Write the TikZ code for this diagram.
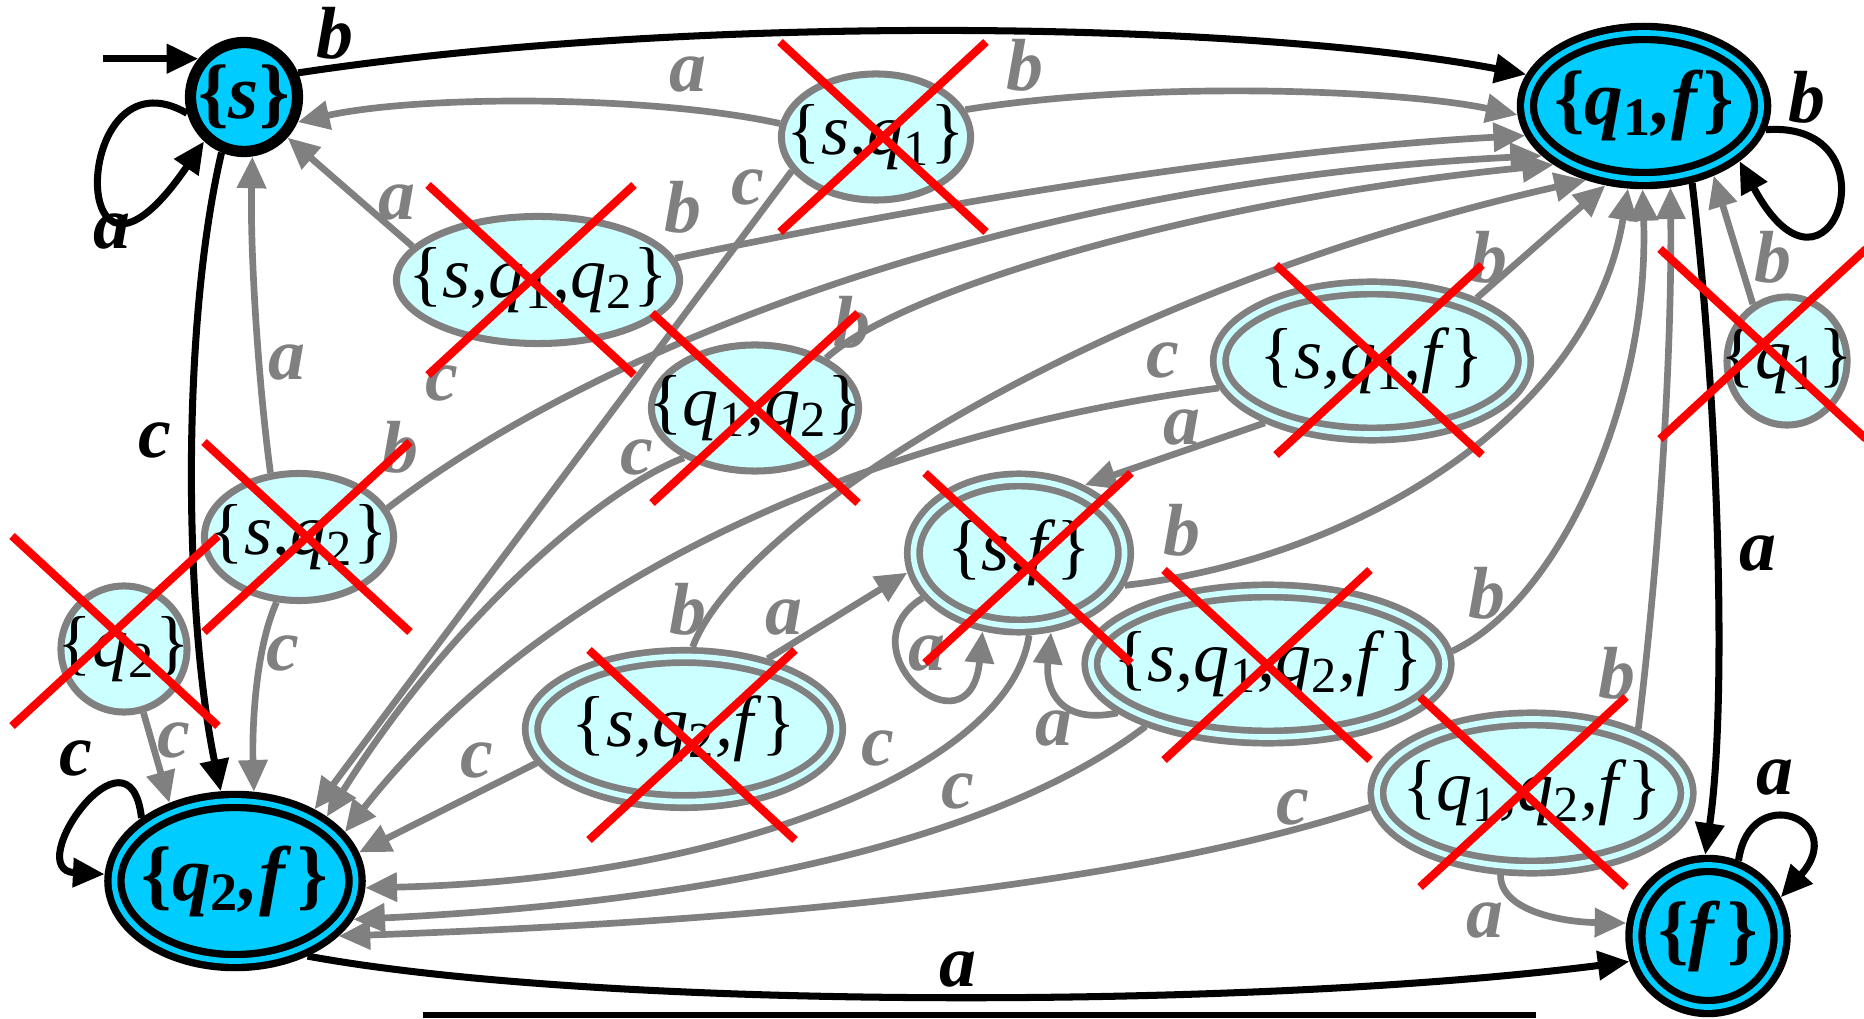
\documentclass[tikz,border=0pt]{standalone}
\usepackage{fontspec}
\setmainfont{Liberation Serif}
\usetikzlibrary{arrows.meta,positioning,shapes.geometric,calc}
\definecolor{livecyan}{RGB}{0,204,255}
\definecolor{deadcyan}{RGB}{204,255,255}
\definecolor{edgegray}{RGB}{128,128,128}
\newcommand{\dset}[1]{\makebox[0pt]{\textup{\{}#1\textup{\}}}}
\newcommand{\qs}[1]{q\textsubscript{\textup{#1}}}
\newcommand{\livefont}{\fontsize{22}{26}\selectfont\itshape\bfseries}
\newcommand{\deadfont}{\fontsize{20.5}{24}\selectfont\itshape}
\newcommand{\labelfont}{\fontsize{21}{25}\selectfont\bfseries\itshape}
\tikzset{
    livestate/.style={ellipse,draw=black,fill=livecyan,line width=3.2pt,inner sep=0pt,outer sep=1.6pt,font=\livefont},
    livefinal/.style={ellipse,draw=black,double=livecyan,double distance=1.6pt,fill=livecyan,line width=2.1pt,inner sep=0pt,outer sep=2.9pt,font=\livefont},
    deadstate/.style={ellipse,draw=edgegray,fill=deadcyan,line width=2pt,inner sep=0pt,outer sep=1pt,font=\deadfont},
    deadfinal/.style={ellipse,draw=edgegray,double=deadcyan,double distance=1.6pt,fill=deadcyan,line width=1.9pt,inner sep=0pt,outer sep=2.7pt,font=\deadfont},
    liveline/.style={-{Triangle[length=9pt,width=8pt]},line width=2pt,black},
    deadline/.style={-{Triangle[length=9pt,width=8pt]},line width=1.9pt,edgegray},
    livelabel/.style={font=\labelfont,text=black,inner sep=0pt},
    deadlabel/.style={font=\labelfont,text=edgegray,inner sep=0pt},
    crossmark/.style={draw=red,line width=2.3pt}
}
\begin{document}
\begin{tikzpicture}[x=0.01cm,y=-0.01cm]
    \useasboundingbox (0,0) rectangle (1864,1019);
    % reachable states
    \node[livestate,minimum width=1.07cm,minimum height=1.09cm] (s) at (244,97) {\dset{s}};
    \node[livefinal,minimum width=2.34cm,minimum height=1.46cm] (q1f) at (1644,106) {\dset{\qs{1},f}};
    \node[livefinal,minimum width=2.41cm,minimum height=1.60cm] (q2f) at (235,881) {\dset{\qs{2},f\,}};
    \node[livefinal,minimum width=1.45cm,minimum height=1.42cm] (f) at (1708,936) {\dset{f\,}};
    % unreachable states
    \node[deadstate,minimum width=1.89cm,minimum height=1.26cm] (sq1) at (876,137) {\dset{s,\qs{1}}};
    \node[deadstate,minimum width=2.83cm,minimum height=1.27cm] (sq1q2) at (538,280) {\dset{s,\qs{1},\qs{2}}};
    \node[deadstate,minimum width=2.07cm,minimum height=1.26cm] (q1q2) at (755,408) {\dset{\qs{1},\qs{2}}};
    \node[deadstate,minimum width=1.89cm,minimum height=1.27cm] (sq2) at (299,537) {\dset{s,\qs{2}}};
    \node[deadstate,minimum width=1.26cm,minimum height=1.26cm] (q2) at (124,649) {\dset{\qs{2}}};
    \node[deadstate,minimum width=1.20cm,minimum height=1.28cm] (q1) at (1787,361) {\dset{\qs{1}}};
    \node[deadfinal,minimum width=3.05cm,minimum height=1.46cm] (sq1f) at (1372,361) {\dset{s,\qs{1},f}};
    \node[deadfinal,minimum width=2.11cm,minimum height=1.46cm] (sf) at (1019,553) {\dset{s,f}};
    \node[deadfinal,minimum width=3.05cm,minimum height=1.45cm] (sq2f) at (684,729) {\dset{s,\qs{2},f}};
    \node[deadfinal,minimum width=3.54cm,minimum height=1.46cm] (sq1q2f) at (1268,664) {\dset{s,\qs{1},\qs{2},f\,}};
    \node[deadfinal,minimum width=3.10cm,minimum height=1.48cm] (q1q2f) at (1532,793) {\dset{\qs{1},\qs{2},f}};
    % start arrow
    \coordinate[left=0.95cm of s.140] (init);
    \draw[liveline] (init) -- (s.140);
    % reachable transitions
    \draw[liveline] (s.196) .. controls (70,45) and (65,345) .. (s.228);
    \draw[liveline] (s.24) .. controls (700,12) and (1250,22) .. (q1f.165);
    \draw[liveline] (s.248) .. controls (180,330) and (185,620) .. (q2f.99);
    \draw[liveline] (q2f.146) .. controls (130,715) and (20,870) .. (q2f.177);
    \draw[liveline] (q2f.314) .. controls (600,1010) and (1250,1010) .. (f.198);
    \draw[liveline] (q1f.302) .. controls (1718,400) and (1728,700) .. (f.92);
    \draw[liveline] (q1f.349) .. controls (1900,120) and (1830,330) .. (q1f.330);
    \draw[liveline] (f.68) .. controls (1750,780) and (1850,820) .. (f.28);
    % unreachable transitions
    \draw[deadline] (sq1.172) .. controls (650,95) and (420,95) .. (s.335);
    \draw[deadline] (sq1.17) .. controls (1150,80) and (1400,90) .. (q1f.184);
    \draw[deadline] (sq1.202) -- (q2f.42);
    \draw[deadline] (sq1q2.165) -- (s.317);
    \draw[deadline] (sq1q2.9) .. controls (900,210) and (1250,150) .. (q1f.194);
    \draw[deadline] (q1q2.35) .. controls (900,290) and (1200,200) .. (q1f.213);
    \draw[deadline] (q1q2.215) .. controls (600,490) and (450,620) .. (q2f.35);
    \draw[deadline] (sq2.114) .. controls (258,380) and (250,250) .. (s.278);
    \draw[deadline] (sq2.18) .. controls (620,330) and (1050,180) .. (q1f.206);
    \draw[deadline] (sq2.251) .. controls (255,650) and (252,730) .. (q2f.78);
    \draw[deadline] (q2.287) -- (q2f.130);
    \draw[deadline] (sq1f.210) -- (sf.46);
    \draw[deadline] (sq1f.31) -- (q1f.244);
    \draw[deadline] (sq1f.190) .. controls (900,430) and (560,560) .. (q2f.24);
    \draw[deadline] (q1.121) -- (q1f.315);
    \draw[deadline] (sf.205) .. controls (840,650) and (970,760) .. (sf.245);
    \draw[deadline] (sf.343) .. controls (1350,560) and (1590,420) .. (q1f.259);
    \draw[deadline] (sf.277) .. controls (1010,770) and (720,880) .. (q2f.357);
    \draw[deadline] (sq2f.40) -- (sf.190);
    \draw[deadline] (sq2f.84) .. controls (740,520) and (1100,290) .. (q1f.232);
    \draw[deadline] (sq2f.193) -- (q2f.13);
    \draw[deadline] (sq1q2f.198) .. controls (1060,725) and (1045,690) .. (sf.292);
    \draw[deadline] (sq1q2f.4) .. controls (1560,600) and (1650,400) .. (q1f.269);
    \draw[deadline] (sq1q2f.207) .. controls (1010,830) and (750,900) .. (q2f.342);
    \draw[deadline] (q1q2f.249) .. controls (1500,910) and (1560,922) .. (f.171);
    \draw[deadline] (q1q2f.31) .. controls (1660,550) and (1672,350) .. (q1f.288);
    \draw[deadline] (q1q2f.185) .. controls (1150,880) and (800,920) .. (q2f.332);
    % labels of reachable transitions
    \node[livelabel] (ls-b) at (335,33) {b};
    \node[livelabel] (ls-a) at (112,232) {a};
    \node[livelabel] (ls-c) at (155,440) {c};
    \node[livelabel] (lq2f-c) at (76,758) {c};
    \node[livelabel] (lq2f-a) at (958,969) {a};
    \node[livelabel] (lq1f-a) at (1758,553) {a};
    \node[livelabel] (lq1f-b) at (1807,97) {b};
    \node[livelabel] (lf-a) at (1775,777) {a};
    % labels of unreachable transitions
    \node[deadlabel] (lsq1-a) at (688,75) {a};
    \node[deadlabel] (lsq1-b) at (1025,65) {b};
    \node[deadlabel] (lsq1-c) at (748,187) {c};
    \node[deadlabel] (lsq1q2-a) at (397,203) {a};
    \node[deadlabel] (lsq1q2-b) at (683,207) {b};
    \node[deadlabel] (lsq1q2-c) at (442,383) {c};
    \node[deadlabel] (lq1q2-b) at (852,322) {b};
    \node[deadlabel] (lq1q2-c) at (637,457) {c};
    \node[deadlabel] (lsq2-a) at (287,363) {a};
    \node[deadlabel] (lsq2-b) at (400,447) {b};
    \node[deadlabel] (lsq2-c) at (283,653) {c};
    \node[deadlabel] (lq2-c) at (174,740) {c};
    \node[deadlabel] (lsq1f-c) at (1163,360) {c};
    \node[deadlabel] (lsq1f-a) at (1182,427) {a};
    \node[deadlabel] (lsq1f-b) at (1489,257) {b};
    \node[deadlabel] (lq1-b) at (1773,257) {b};
    \node[deadlabel] (lsf-a) at (927,653) {a};
    \node[deadlabel] (lsf-b) at (1182,530) {b};
    \node[deadlabel] (lsf-c) at (878,748) {c};
    \node[deadlabel] (lsq2f-b) at (688,609) {b};
    \node[deadlabel] (lsq2f-a) at (784,617) {a};
    \node[deadlabel] (lsq2f-c) at (477,760) {c};
    \node[deadlabel] (lsq1q2f-a) at (1054,728) {a};
    \node[deadlabel] (lsq1q2f-b) at (1487,593) {b};
    \node[deadlabel] (lsq1q2f-c) at (958,791) {c};
    \node[deadlabel] (lq1q2f-b) at (1617,673) {b};
    \node[deadlabel] (lq1q2f-c) at (1293,807) {c};
    \node[deadlabel] (lq1q2f-a) at (1485,920) {a};
    % crossed out states
    \foreach \n/\dx/\dy in {sq1/7/0,sq1q2/-7/0,q1q2/0/0,sq2/8/0,q2/-9/-18,sq1f/7/-1,q1/-24/-17,sf/9/15,sq2f/8/16,sq1q2f/-1/1,q1q2f/-9/-1} {
        \draw[crossmark] ($(\n)+(\dx-103,\dy-95)$) -- ($(\n)+(\dx+103,\dy+95)$);
        \draw[crossmark] ($(\n)+(\dx-103,\dy+95)$) -- ($(\n)+(\dx+103,\dy-95)$);
    }
    % rule under the picture
    \draw[line width=1.7pt] (423,1015) -- (1536,1015);
\end{tikzpicture}
\end{document}
